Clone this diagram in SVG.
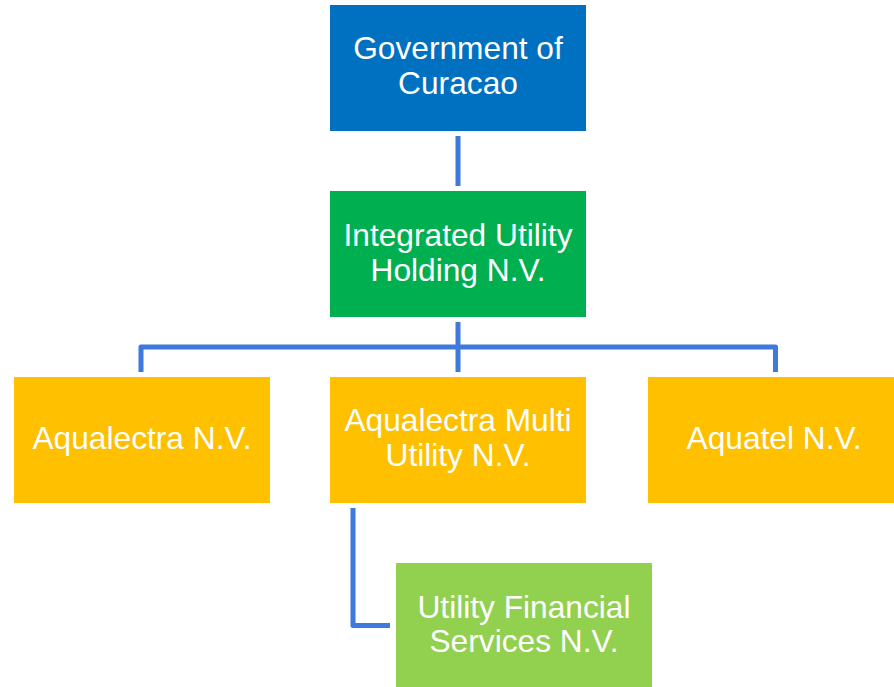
<svg xmlns="http://www.w3.org/2000/svg" width="894" height="687" viewBox="0 0 894 687">
<style>
text{font-family:"Liberation Sans",Arial,sans-serif;font-size:31.7px;fill:#fff;text-anchor:middle}
.c{fill:none;stroke:#3D7ADB;stroke-width:5;stroke-linejoin:round}
</style>
<rect width="894" height="687" fill="#fff"/>
<g id="connectors">
<path class="c" d="M458,136V186"/>
<path class="c" d="M458,322V372"/>
<path class="c" d="M141,372V347H775.5V372"/>
<path class="c" d="M353,508V625.5H390"/>
</g>
<g id="gov"><rect x="330" y="5" width="256" height="126" fill="#0070C0"/><text x="458" y="59">Government of</text><text x="458" y="94">Curacao</text></g>
<g id="iuh"><rect x="330" y="191" width="256" height="126" fill="#00B050"/><text x="458" y="246">Integrated Utility</text><text x="458" y="281">Holding N.V.</text></g>
<g id="aqualectra"><rect x="14" y="377" width="256" height="126" fill="#FFC000"/><text x="142" y="449">Aqualectra N.V.</text></g>
<g id="amu"><rect x="330" y="377" width="256" height="126" fill="#FFC000"/><text x="458" y="431">Aqualectra Multi</text><text x="458" y="466">Utility N.V.</text></g>
<g id="aquatel"><rect x="648" y="377" width="246" height="126" fill="#FFC000"/><text x="774" y="449">Aquatel N.V.</text></g>
<g id="ufs"><rect x="396" y="563" width="256" height="124" fill="#92D050"/><text x="524" y="618">Utility Financial</text><text x="524" y="652">Services N.V.</text></g>
</svg>
